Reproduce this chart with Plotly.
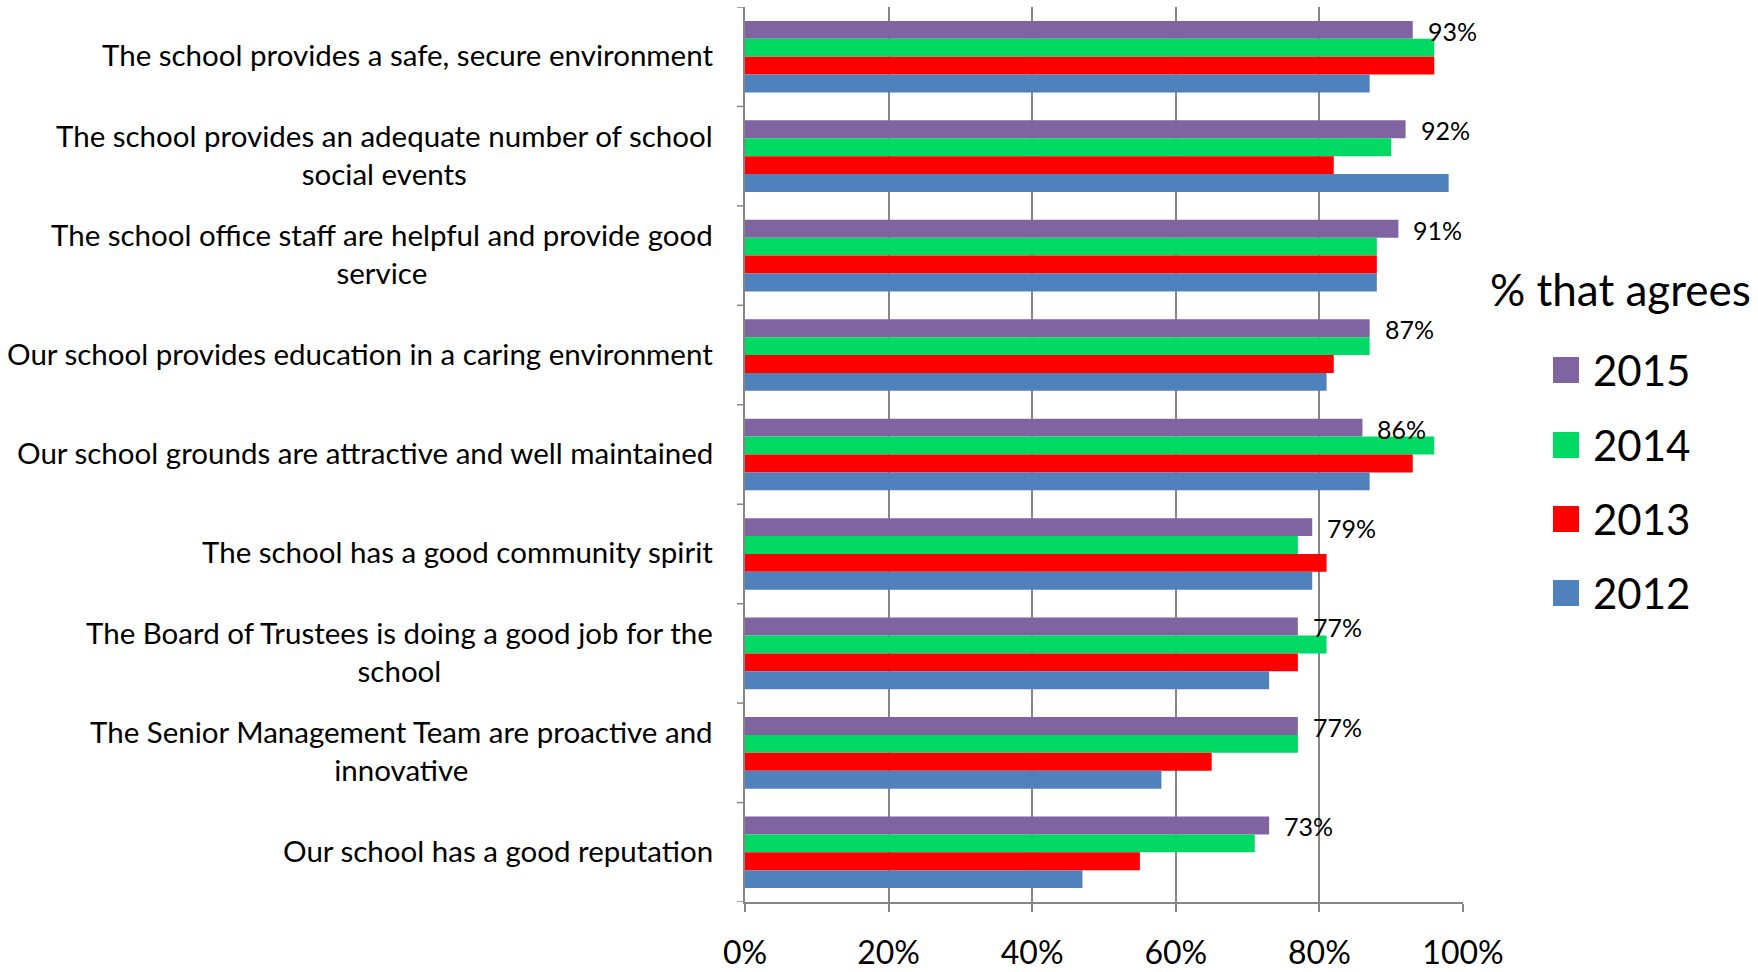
import plotly.graph_objects as go

categories = [
    "The school provides a safe, secure environment",
    "The school provides an adequate number of school<br>social events",
    "The school office staff are helpful and provide good<br>service",
    "Our school provides education in a caring environment",
    "Our school grounds are attractive and well maintained",
    "The school has a good community spirit",
    "The Board of Trustees is doing a good job for the<br>school",
    "The Senior Management Team are proactive and<br>innovative",
    "Our school has a good reputation",
]
years = ["2015", "2014", "2013", "2012"]
v2015 = [93, 92, 91, 87, 86, 79, 77, 77, 73]
v2014 = [96, 90, 88, 87, 96, 77, 81, 77, 71]
v2013 = [96, 82, 88, 82, 93, 81, 77, 65, 55]
v2012 = [87, 98, 88, 81, 87, 79, 73, 58, 47]
colors = ["#8064A2", "#00D964", "#FF0000", "#4F81BD"]
tick_vals = [0, 20, 40, 60, 80, 100]
tick_text = ["0%", "20%", "40%", "60%", "80%", "100%"]

series = [v2015, v2014, v2013, v2012]
cat_ids = list(range(len(categories)))

W, H = 1758, 972
ml, mr, mt, mb = 745, 295, 7, 70
pw = W - ml - mr
ph = H - mt - mb
FONT = "Lato, Calibri, sans-serif"

fig = go.Figure()
for name, vals, col in zip(years, series, colors):
    fig.add_trace(go.Bar(
        y=cat_ids, x=vals, orientation="h", name=name,
        marker=dict(color=col, line=dict(width=0)), showlegend=False,
    ))

annotations = []
# y-axis category labels (centered multi-line, right edge near axis)
for i, c in enumerate(categories):
    annotations.append(dict(
        x=0, xref="paper", y=i, yref="y", text=c, showarrow=False,
        xanchor="right", yanchor="middle", align="center", xshift=-30, yshift=2,
        font=dict(family=FONT, size=29.5, color="#000000"),
    ))
# data labels on 2015 bars
for i, v in enumerate(v2015):
    annotations.append(dict(
        x=v, xref="x", y=i, yref="y", text=f"{v}%", showarrow=False,
        xanchor="left", yanchor="middle", xshift=13, yshift=26,
        font=dict(family=FONT, size=25, color="#000000"),
    ))

def px2paper_x(px):
    return (px - ml) / pw

def px2paper_y(py):
    return (H - mb - py) / ph

# manual legend
annotations.append(dict(
    x=px2paper_x(1620), y=px2paper_y(289), xref="paper", yref="paper",
    text="% that agrees", showarrow=False, xanchor="center", yanchor="middle",
    font=dict(family=FONT, size=44, color="#000000"),
))
shapes = []
item_y = [370, 445, 519, 593]
for name, col, iy in zip(years, colors, item_y):
    shapes.append(dict(
        type="rect", xref="paper", yref="paper",
        x0=px2paper_x(1553), x1=px2paper_x(1579),
        y0=px2paper_y(iy - 13), y1=px2paper_y(iy + 13),
        fillcolor=col, line=dict(width=0),
    ))
    annotations.append(dict(
        x=px2paper_x(1591), y=px2paper_y(iy), xref="paper", yref="paper",
        text=name, showarrow=False, xanchor="left", yanchor="middle",
        font=dict(family=FONT, size=42, color="#000000"),
    ))

# category boundary ticks on the y axis
for k in range(len(categories) + 1):
    shapes.append(dict(
        type="line", xref="paper", yref="y",
        x0=px2paper_x(ml - 8), x1=0, y0=k - 0.5, y1=k - 0.5,
        line=dict(color="#868686", width=1.5),
    ))

fig.update_layout(
    width=W, height=H,
    margin=dict(l=ml, r=mr, t=mt, b=mb, autoexpand=False),
    barmode="group", bargap=0.28, bargroupgap=0,
    plot_bgcolor="white", paper_bgcolor="white",
    annotations=annotations, shapes=shapes,
    font=dict(family=FONT, color="#000000"),
)
fig.update_xaxes(
    range=[0, 100], tickvals=tick_vals, ticktext=tick_text,
    showgrid=True, gridcolor="#868686", gridwidth=1.5,
    showline=True, linecolor="#868686", linewidth=1.5,
    ticks="outside", ticklen=8, tickcolor="#868686", tickwidth=1.5,
    tickfont=dict(family=FONT, size=32, color="#000000"),
    ticklabelstandoff=14, zeroline=False,
)
fig.update_yaxes(
    tickvals=cat_ids, ticktext=[""] * len(cat_ids),
    range=[len(categories) - 0.5, -0.5],
    showline=True, linecolor="#868686", linewidth=1.5,
    ticks="", showgrid=False, zeroline=False,
)

fig.write_html(
    "out.html",
    config={"displayModeBar": False},
    post_script="document.body.style.margin='0';document.body.style.padding='0';",
)
